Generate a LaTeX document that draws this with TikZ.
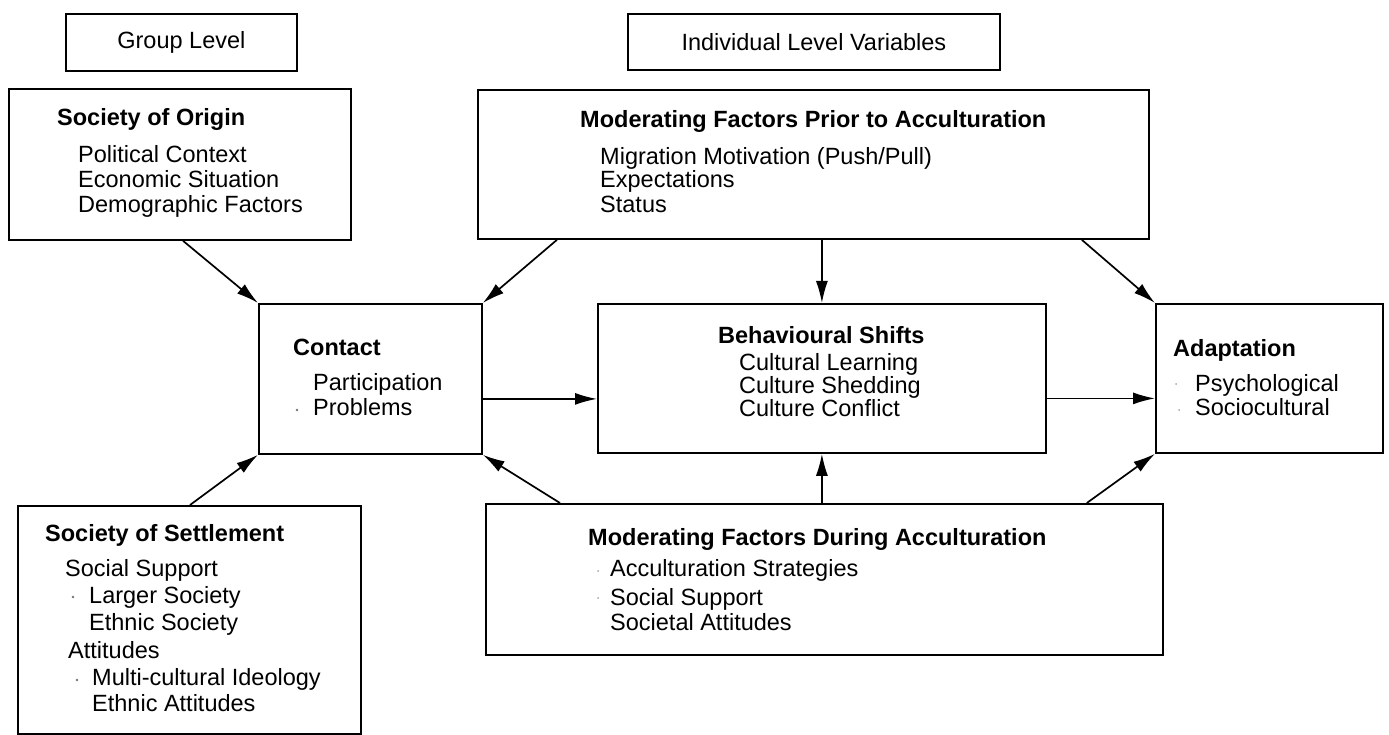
\documentclass[tikz,border=0pt]{standalone}
\usepackage{fontspec}
\setmainfont{Liberation Sans}
\usetikzlibrary{arrows.meta}
\begin{document}
\begin{tikzpicture}[x=1pt,y=-1pt,
  box/.style={draw, line width=1.8pt, inner sep=0pt, anchor=north west},
  txt/.style={anchor=base west, inner sep=0pt, font=\fontsize{23.5}{25}\selectfont},
  ttl/.style={anchor=base west, inner sep=0pt, font=\fontsize{23.5}{25}\selectfont\bfseries},
  lbl/.style={inner sep=0pt, font=\fontsize{23.5}{25}\selectfont},
  conn/.style={line width=1.7pt, -{Latex[length=22pt,width=12pt]}},
  speck/.style={fill=black!55, circle, inner sep=0pt, minimum size=2.6pt}
]
\useasboundingbox (0,0) rectangle (1389,735);

% boxes
\node[box, minimum width=231pt, minimum height=57pt] (grp) at (65,13) {};
\node[box, minimum width=372pt, minimum height=56pt] (ind) at (627,13) {};
\node[box, minimum width=342pt, minimum height=151pt] (soo) at (8,88) {};
\node[box, minimum width=671pt, minimum height=149pt] (mpr) at (477,89) {};
\node[box, minimum width=223pt, minimum height=150pt] (con) at (258,303) {};
\node[box, minimum width=448pt, minimum height=149pt] (beh) at (597,303) {};
\node[box, minimum width=227pt, minimum height=149pt] (ada) at (1155,303) {};
\node[box, minimum width=343pt, minimum height=228pt] (sos) at (17,505) {};
\node[box, minimum width=677pt, minimum height=151pt] (mdu) at (485,503) {};

% headers
\node[lbl] (grpt) at (grp.center) {Group Level};
\node[lbl] (indt) at (ind.center) {Individual Level Variables};

% Society of Origin
\node[ttl] (soo0) at (57,126) {Society of Origin};
\node[txt] (soo1) at (78,163) {Political Context};
\node[txt] (soo2) at (78,188) {Economic Situation};
\node[txt] (soo3) at (78,213) {Demographic Factors};

% Moderating factors prior
\node[ttl] (mpr0) at (580,128) {Moderating Factors Prior to Acculturation};
\node[txt] (mpr1) at (600,165) {Migration Motivation (Push/Pull)};
\node[txt] (mpr2) at (600,188) {Expectations};
\node[txt] (mpr3) at (600,213) {Status};

% Contact
\node[ttl] (con0) at (293,355) {Contact};
\node[txt] (con1) at (313,390) {Participation};
\node[txt] (con2) at (313,415) {Problems};
\node[speck] (cond) at (297,410) {};

% Behavioural shifts
\node[ttl] (beh0) at (718,343) {Behavioural Shifts};
\node[txt] (beh1) at (739,370) {Cultural Learning};
\node[txt] (beh2) at (739,393) {Culture Shedding};
\node[txt] (beh3) at (739,416) {Culture Conflict};

% Adaptation
\node[ttl] (ada0) at (1173,356) {Adaptation};
\node[txt] (ada1) at (1195,391) {Psychological};
\node[txt] (ada2) at (1195,415) {Sociocultural};
\node[speck, fill=black!35, minimum size=2pt] (adad1) at (1176,384) {};
\node[speck, fill=black!35, minimum size=2pt] (adad2) at (1179,410) {};

% Society of Settlement
\node[ttl] (sos0) at (45,541) {Society of Settlement};
\node[txt] (sos1) at (65,576) {Social Support};
\node[txt] (sos2) at (89,603) {Larger Society};
\node[txt] (sos3) at (89,630) {Ethnic Society};
\node[txt] (sos4) at (68,658) {Attitudes};
\node[txt] (sos5) at (92,685) {Multi-cultural Ideology};
\node[txt] (sos6) at (92,711) {Ethnic Attitudes};
\node[speck] (sosd1) at (73,597) {};
\node[speck] (sosd2) at (77,680) {};

% Moderating factors during
\node[ttl] (mdu0) at (588,545) {Moderating Factors During Acculturation};
\node[txt] (mdu1) at (610,576) {Acculturation Strategies};
\node[txt] (mdu2) at (610,605) {Social Support};
\node[txt] (mdu3) at (610,630) {Societal Attitudes};
\node[speck, fill=black!35, minimum size=2pt] (mdud1) at (598,571) {};
\node[speck, fill=black!35, minimum size=2pt] (mdud2) at (598,598) {};

% connectors
\draw[conn] ([xshift=175pt]soo.south west) -- (con.north west);
\draw[conn] ([xshift=80pt]mpr.south west) -- (con.north east);
\draw[conn] (mpr.south -| beh.north) -- (beh.north);
\draw[conn] ([xshift=-68pt]mpr.south east) -- (ada.north west);
\draw[conn] ([yshift=-20pt]con.east) -- ([yshift=-20pt]con.east -| beh.west);
\draw[conn] ([yshift=-20pt]beh.east) -- ([yshift=-20pt]beh.east -| ada.west);
\draw[conn] ([xshift=173pt]sos.north west) -- (con.south west);
\draw[conn] ([xshift=75pt]mdu.north west) -- (con.south east);
\draw[conn] (mdu.north -| beh.south) -- (beh.south);
\draw[conn] ([xshift=-77pt]mdu.north east) -- (ada.south west);
\end{tikzpicture}
\end{document}
